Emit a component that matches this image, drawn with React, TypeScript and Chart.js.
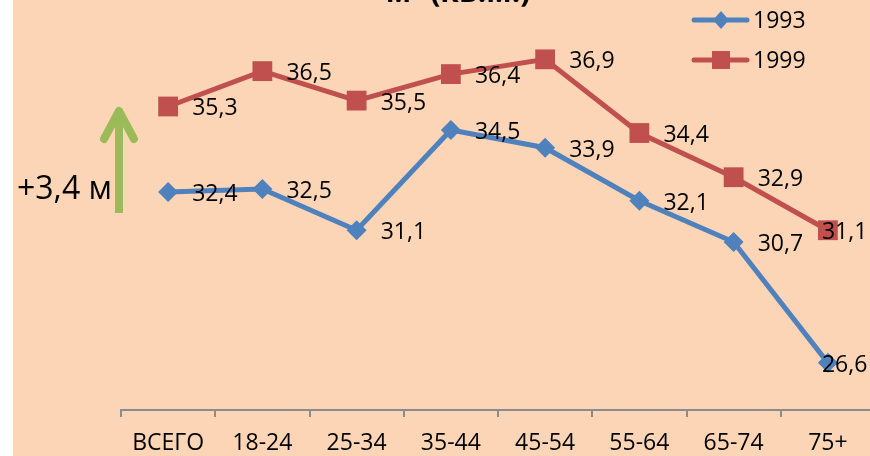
import React, { useEffect, useRef } from "react";
import { Chart, registerables } from "chart.js";

Chart.register(...registerables);

const categories = ["ВСЕГО", "18-24", "25-34", "35-44", "45-54", "55-64", "65-74", "75+"];
const values1993 = [32.4, 32.5, 31.1, 34.5, 33.9, 32.1, 30.7, 26.6];
const values1999 = [35.3, 36.5, 35.5, 36.4, 36.9, 34.4, 32.9, 31.1];
const seriesNames = ["1993", "1999"];
const titleText = "м² (кв.м.)";
const annotationText = "+3,4 м";

const BLUE = "#4F81BD";
const RED = "#C0504D";
const GREEN = "#9BBB59";
const BG = "#FBD5B5";
const FONT = "'Open Sans', 'Noto Sans', sans-serif";
const OFF = 32; // canvas is shifted up by this many px
const CW = 880;
const CH = 456 + OFF;

const fmt = (v: number) => v.toFixed(1).replace(".", ",");

const decorPlugin = {
  id: "decor",
  beforeDraw(chart: any) {
    const ctx = chart.ctx;
    ctx.save();
    ctx.fillStyle = "#ffffff";
    ctx.fillRect(0, 0, chart.width, chart.height);
    ctx.fillStyle = BG;
    ctx.fillRect(13, 0, chart.width - 13, chart.height);
    ctx.restore();
  },
  afterDatasetsDraw(chart: any) {
    const ctx = chart.ctx;
    ctx.save();
    ctx.fillStyle = "#000";
    ctx.font = `23px ${FONT}`;
    ctx.textAlign = "left";
    ctx.textBaseline = "alphabetic";
    chart.data.datasets.forEach((ds: any, di: number) => {
      const meta = chart.getDatasetMeta(di);
      meta.data.forEach((pt: any, i: number) => {
        const last = i === meta.data.length - 1;
        const x = last ? pt.x - 6 : pt.x + 24;
        ctx.fillText(fmt(ds.data[i]), x, pt.y + 9);
      });
    });
    ctx.restore();
  },
  afterDraw(chart: any) {
    const ctx = chart.ctx;
    ctx.save();
    // title (cut at the top)
    ctx.fillStyle = "#000";
    ctx.font = `bold 30px ${FONT}`;
    ctx.textAlign = "center";
    ctx.textBaseline = "alphabetic";
    ctx.fillText(titleText, 458, OFF + 2);

    // legend
    const entries = [
      { name: seriesNames[0], color: BLUE, y: 20, shape: "diamond" },
      { name: seriesNames[1], color: RED, y: 60, shape: "square" },
    ];
    entries.forEach((e) => {
      const y = e.y + OFF;
      ctx.strokeStyle = e.color;
      ctx.lineWidth = 5;
      ctx.lineCap = "round";
      ctx.beginPath();
      ctx.moveTo(694, y);
      ctx.lineTo(747, y);
      ctx.stroke();
      ctx.fillStyle = e.color;
      if (e.shape === "diamond") {
        ctx.beginPath();
        ctx.moveTo(721, y - 9);
        ctx.lineTo(729, y);
        ctx.lineTo(721, y + 9);
        ctx.lineTo(713, y);
        ctx.closePath();
        ctx.fill();
      } else {
        ctx.fillRect(712, y - 9, 18, 18);
      }
      ctx.fillStyle = "#000";
      ctx.font = `23px ${FONT}`;
      ctx.textAlign = "left";
      ctx.fillText(e.name, 753, y + 8);
    });

    // green arrow
    ctx.strokeStyle = GREEN;
    ctx.lineWidth = 8;
    ctx.lineCap = "round";
    ctx.lineJoin = "round";
    ctx.beginPath();
    ctx.moveTo(119, 200 + OFF);
    ctx.lineTo(119, 112 + OFF);
    ctx.stroke();
    ctx.beginPath();
    ctx.moveTo(104, 139 + OFF);
    ctx.lineTo(119, 111 + OFF);
    ctx.lineTo(134, 139 + OFF);
    ctx.stroke();
    ctx.lineCap = "butt";
    ctx.beginPath();
    ctx.moveTo(119, 213 + OFF);
    ctx.lineTo(119, 198 + OFF);
    ctx.stroke();

    // annotation text
    ctx.fillStyle = "#000";
    ctx.font = `32px ${FONT}`;
    ctx.textAlign = "left";
    ctx.fillText(annotationText, 17, 199 + OFF);
    ctx.restore();
  },
};

export default function App() {
  const ref = useRef<HTMLCanvasElement | null>(null);
  useEffect(() => {
    if (!ref.current) return;
    const chart = new Chart(ref.current, {
      type: "line",
      data: {
        labels: categories,
        datasets: [
          {
            label: seriesNames[0],
            data: values1993,
            borderColor: BLUE,
            backgroundColor: BLUE,
            borderWidth: 5,
            pointStyle: "rectRot",
            pointRadius: 10,
            pointBorderWidth: 0,
            tension: 0,
          },
          {
            label: seriesNames[1],
            data: values1999,
            borderColor: RED,
            backgroundColor: RED,
            borderWidth: 5,
            pointStyle: "rect",
            pointRadius: 14,
            pointBorderWidth: 0,
            tension: 0,
          },
        ],
      },
      options: {
        animation: false,
        responsive: true,
        maintainAspectRatio: false,
        devicePixelRatio: 1,
        layout: { autoPadding: false, padding: { left: 121, right: 5, top: 0, bottom: 0 } },
        plugins: {
          legend: { display: false },
          tooltip: { enabled: false },
          title: { display: false },
        },
        scales: {
          y: { display: false, min: 25, max: 40 },
          x: {
            offset: true,
            grid: {
              offset: true,
              drawOnChartArea: false,
              drawTicks: true,
              tickLength: 7,
              color: "#8c8c8c",
              lineWidth: 2,
            },
            border: { display: true, color: "#8c8c8c", width: 2 },
            ticks: {
              color: "#000",
              font: { family: FONT, size: 23 },
              padding: 13,
              maxRotation: 0,
              autoSkip: false,
            },
            afterFit: (s: any) => {
              s.height = 46;
            },
          },
        },
      },
      plugins: [decorPlugin],
    });
    return () => chart.destroy();
  }, []);

  return (
    <div
      style={{
        position: "fixed",
        left: 0,
        top: 0,
        width: 870,
        height: 456,
        overflow: "hidden",
        background: "#fff",
      }}
    >
      <div style={{ position: "absolute", left: 0, top: -OFF, width: CW, height: CH }}>
        <canvas ref={ref} />
      </div>
    </div>
  );
}
